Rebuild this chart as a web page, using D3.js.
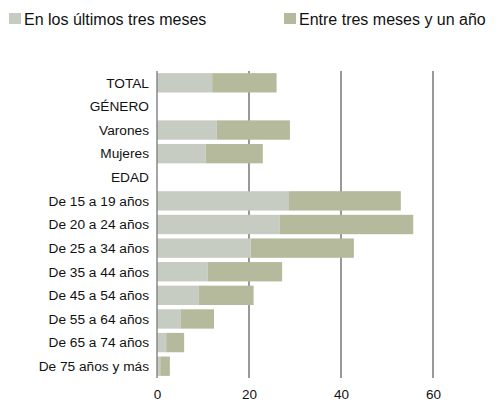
<!DOCTYPE html>
<html><head><meta charset="utf-8">
<script src="https://cdn.jsdelivr.net/npm/d3@7"></script>
<style>body{margin:0;background:#fff}svg{display:block;font-family:"Liberation Sans",Arial,sans-serif}</style>
</head><body><div id="chart"></div>
<script>
const categories = ["TOTAL","GÉNERO","Varones","Mujeres","EDAD","De 15 a 19 años","De 20 a 24 años","De 25 a 34 años","De 35 a 44 años","De 45 a 54 años","De 55 a 64 años","De 65 a 74 años","De 75 años y más"];
const seriesNames = ["En los últimos tres meses","Entre tres meses y un año"];
const last3 = [12.0,null,13.0,10.6,null,28.7,26.7,20.4,11.0,9.1,5.2,2.0,0.7];
const between = [14.0,null,15.9,12.4,null,24.3,29.0,22.4,16.2,11.9,7.2,3.9,2.1];
const ticks = [0,20,40,60];
const colors = ["#c6ccc1","#b6ba9d"];

const W=499,H=403;
const svg=d3.select("#chart").append("svg").attr("width",W).attr("height",H);
const x=d3.scaleLinear().domain([0,60]).range([157,433]);
const y=d3.scaleBand().domain(categories).range([71,378]).paddingInner(0.18).paddingOuter(0.09);

// gridlines
svg.append("g").selectAll("line").data(ticks.filter(t=>t>0)).join("line")
  .attr("x1",d=>x(d)).attr("x2",d=>x(d)).attr("y1",71).attr("y2",378)
  .attr("stroke","#333").attr("stroke-width",1);

const rows=categories.map((c,i)=>({c,a:last3[i],b:between[i]}));
const g=svg.append("g");
rows.filter(r=>r.a!=null).forEach(r=>{
  g.append("rect").attr("x",x(0)).attr("y",y(r.c)).attr("width",x(r.a)-x(0)).attr("height",y.bandwidth()).attr("fill",colors[0]);
  g.append("rect").attr("x",x(r.a)).attr("y",y(r.c)).attr("width",x(r.a+r.b)-x(r.a)).attr("height",y.bandwidth()).attr("fill",colors[1]);
});

// zero axis
svg.append("line").attr("x1",x(0)).attr("x2",x(0)).attr("y1",71).attr("y2",378).attr("stroke","#888").attr("stroke-width",1.5);

// category labels
svg.append("g").selectAll("text").data(categories).join("text")
  .attr("x",149).attr("y",d=>y(d)+y.bandwidth()/2).attr("dy","0.35em")
  .attr("text-anchor","end").attr("font-size",13.7).attr("fill","#111").text(d=>d);

// tick labels
const xa=d3.axisBottom(x).tickValues(ticks).tickSize(0).tickPadding(0);
const ag=svg.append("g").attr("transform","translate(0,0)").call(xa);
ag.select(".domain").remove();
ag.selectAll("text").attr("y",399).attr("dy",0).attr("font-size",13.5).attr("fill","#111").attr("font-family","'Liberation Sans',Arial,sans-serif");

// legend
const lx=[9,284];
seriesNames.forEach((n,i)=>{
  svg.append("rect").attr("x",lx[i]).attr("y",13).attr("width",12).attr("height",11).attr("fill",colors[i]);
  svg.append("text").attr("x",lx[i]+15).attr("y",19).attr("dy","0.35em").attr("font-size",16).attr("fill","#111").text(n);
});
</script></body></html>
